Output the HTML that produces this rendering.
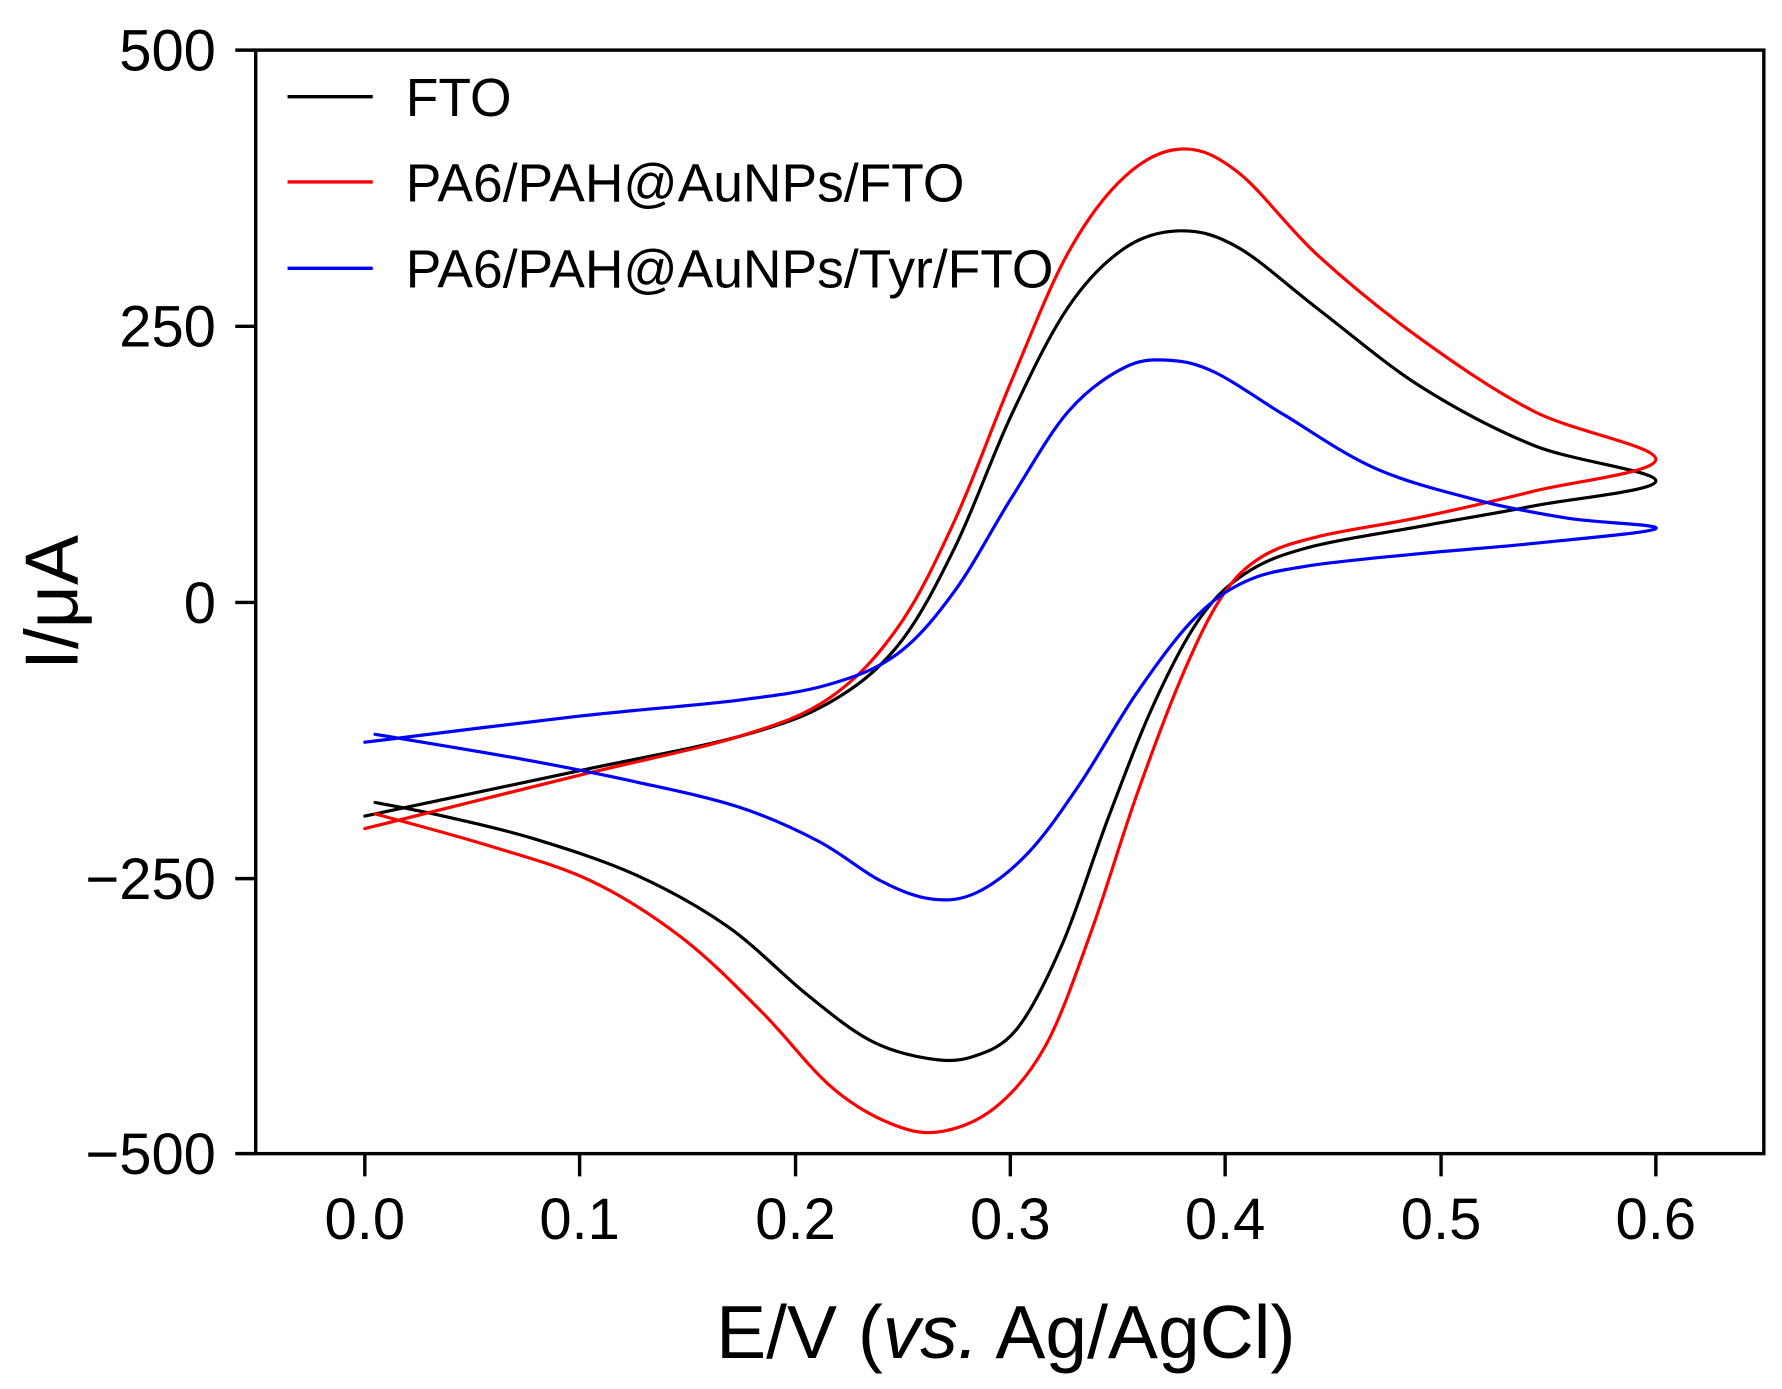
<!DOCTYPE html>
<html><head><meta charset="utf-8"><style>
html,body{margin:0;padding:0;background:#fff;}
svg{display:block;}
text{font-family:"Liberation Sans",Arial,sans-serif;fill:#000;}
</style></head><body>
<svg id="s" width="1782" height="1389" viewBox="0 0 1568 1222" xmlns="http://www.w3.org/2000/svg">
<rect x="0" y="0" width="1568" height="1222" fill="#fff"/>
<g id="curves" fill="none" stroke-width="2.8" stroke-linejoin="round" stroke-linecap="round"></g>
<rect x="225" y="44" width="1327" height="971" fill="none" stroke="#000" stroke-width="3"/>
<g stroke="#000" stroke-width="3">
<line x1="207" y1="44" x2="225" y2="44"/><line x1="207" y1="287" x2="225" y2="287"/><line x1="207" y1="530" x2="225" y2="530"/><line x1="207" y1="773" x2="225" y2="773"/><line x1="207" y1="1015" x2="225" y2="1015"/>
<line x1="321" y1="1015" x2="321" y2="1035"/><line x1="510" y1="1015" x2="510" y2="1035"/><line x1="700" y1="1015" x2="700" y2="1035"/><line x1="889" y1="1015" x2="889" y2="1035"/><line x1="1078" y1="1015" x2="1078" y2="1035"/><line x1="1268" y1="1015" x2="1268" y2="1035"/><line x1="1457" y1="1015" x2="1457" y2="1035"/>
</g>
<g font-size="51" text-anchor="end">
<text x="190" y="62">500</text><text x="190" y="305">250</text><text x="190" y="548">0</text><text x="190" y="791">−250</text><text x="190" y="1033">−500</text>
</g>
<g font-size="51" text-anchor="middle">
<text x="321" y="1090">0.0</text><text x="510" y="1090">0.1</text><text x="700" y="1090">0.2</text><text x="889" y="1090">0.3</text><text x="1078" y="1090">0.4</text><text x="1268" y="1090">0.5</text><text x="1457" y="1090">0.6</text>
</g>
<text x="885" y="1195" font-size="66" text-anchor="middle">E/V (<tspan font-style="italic">vs.</tspan> Ag/AgCl)</text>
<text transform="translate(68,530) rotate(-90)" font-size="66" text-anchor="middle">I/μA</text>
<g stroke-width="3">
<line x1="253" y1="85" x2="328" y2="85" stroke="#000"/>
<line x1="253" y1="160" x2="328" y2="160" stroke="#f00"/>
<line x1="253" y1="236" x2="328" y2="236" stroke="#00f"/>
</g>
<g font-size="47">
<text x="357" y="102">FTO</text>
<text x="357" y="177">PA6/PAH@AuNPs/FTO</text>
<text x="357" y="253">PA6/PAH@AuNPs/Tyr/FTO</text>
</g>
</svg>
<script>
var data={
"#000":[[321,718],[510,678],[650,648],[730,618],[790,568],[840,482],[890,365],[940,270],[990,218],[1040,203],[1090,218],[1160,272],[1250,340],[1350,392],[1457,423],[1350,445],[1250,463],[1150,482],[1095,505],[1055,545],[1015,620],[975,720],[935,830],[895,905],[855,930],[815,931],[765,915],[710,875],[640,815],[560,770],[470,738],[390,718],[330,706]],
"#f00":[[321,729],[510,682],[650,648],[730,614],[790,552],[840,458],[890,335],[940,222],[990,155],[1040,131],[1090,152],[1160,225],[1250,298],[1350,362],[1457,404],[1350,432],[1250,455],[1160,472],[1110,490],[1075,525],[1040,595],[1000,700],[960,820],[920,920],[875,975],[825,996],[780,987],[730,955],[670,890],[600,825],[520,775],[430,744],[330,716]],
"#00f":[[321,653],[510,630],[650,616],[730,602],[790,575],[840,520],[890,438],[940,362],[990,323],[1030,317],[1070,328],[1130,365],[1210,412],[1300,440],[1380,456],[1457,465],[1350,478],[1250,487],[1150,498],[1095,512],[1050,545],[1000,610],[950,690],[905,750],[860,785],[820,791],[775,775],[720,740],[650,710],[560,688],[460,668],[330,646]]
};
var g=document.getElementById('curves'),NS="http://www.w3.org/2000/svg";
for(var c in data){var p=data[c],d="M"+p[0][0]+","+p[0][1];
for(var i=0;i<p.length-1;i++){var p0=p[i-1]||p[i],p1=p[i],p2=p[i+1],p3=p[i+2]||p2;
d+=" C"+(p1[0]+(p2[0]-p0[0])/6)+","+(p1[1]+(p2[1]-p0[1])/6)+" "+(p2[0]-(p3[0]-p1[0])/6)+","+(p2[1]-(p3[1]-p1[1])/6)+" "+p2[0]+","+p2[1];}
var e=document.createElementNS(NS,"path");e.setAttribute("d",d);e.setAttribute("stroke",c);g.appendChild(e);}
</script>
</body></html>
